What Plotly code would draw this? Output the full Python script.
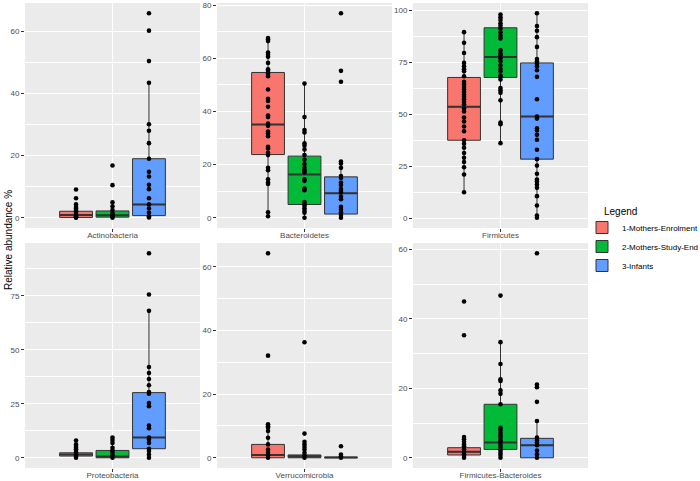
import plotly.graph_objects as go

groups = ["1-Mothers-Enrolment", "2-Mothers-Study-End", "3-Infants"]
colors = ["#F8766D", "#00BA38", "#619CFF"]
phyla = ["Actinobacteria", "Bacteroidetes", "Firmicutes",
         "Proteobacteria", "Verrucomicrobia", "Firmicutes-Bacteroides"]
y_dticks = [20, 20, 25, 25, 20, 20]

# Box statistics per phylum: one value per group (Enrolment, Study-End, Infants)
q1 = {
    "Actinobacteria": [0.1, 0.2, 0.7],
    "Bacteroidetes": [23.8, 5.0, 1.4],
    "Firmicutes": [37.6, 67.8, 28.5],
    "Proteobacteria": [0.8, 0.0, 4.2],
    "Verrucomicrobia": [0.0, 0.0, 0.0],
    "Firmicutes-Bacteroides": [0.8, 2.4, 0.0],
}
median = {
    "Actinobacteria": [0.9, 0.8, 4.3],
    "Bacteroidetes": [35.1, 16.3, 9.2],
    "Firmicutes": [53.7, 77.7, 49.0],
    "Proteobacteria": [1.5, 0.6, 9.4],
    "Verrucomicrobia": [0.9, 0.5, 0.1],
    "Firmicutes-Bacteroides": [1.7, 4.4, 3.6],
}
q3 = {
    "Actinobacteria": [2.1, 2.2, 19.0],
    "Bacteroidetes": [54.7, 23.2, 15.4],
    "Firmicutes": [67.8, 91.7, 74.8],
    "Proteobacteria": [2.3, 3.4, 30.2],
    "Verrucomicrobia": [4.2, 0.9, 0.2],
    "Firmicutes-Bacteroides": [2.9, 15.4, 5.6],
}
lower_whisker = {
    "Actinobacteria": [0.0, 0.0, 0.1],
    "Bacteroidetes": [0.6, 0.0, 0.0],
    "Firmicutes": [12.6, 36.2, 0.3],
    "Proteobacteria": [0.0, 0.0, 0.0],
    "Verrucomicrobia": [0.0, 0.0, 0.0],
    "Firmicutes-Bacteroides": [0.0, 0.0, 0.0],
}
upper_whisker = {
    "Actinobacteria": [4.3, 5.0, 43.4],
    "Bacteroidetes": [67.7, 50.5, 21.2],
    "Firmicutes": [89.6, 98.1, 98.7],
    "Proteobacteria": [3.1, 8.2, 68.1],
    "Verrucomicrobia": [10.5, 2.2, 0.5],
    "Firmicutes-Bacteroides": [6.0, 33.3, 10.6],
}

# Individual sample values (relative abundance %)
points = {
    "Actinobacteria": [
        [9.1, 6.3, 4.3, 3.5, 3.0, 2.5, 2.0, 1.5, 1.0, 0.5, 0.2, 0.0],
        [16.8, 10.5, 5.0, 3.7, 2.5, 1.5, 1.0, 0.5, 0.0],
        [65.8, 60.2, 50.4, 43.4, 30.1, 28.0, 24.0, 19.0, 14.8, 13.3, 10.6, 9.2,
         6.3, 4.3, 3.0, 1.6, 0.5, 0.1],
    ],
    "Bacteroidetes": [
        [67.7, 67.1, 66.5, 62.2, 61.4, 60.6, 58.3, 55.9, 55.3, 54.3, 53.3, 48.3,
         44.8, 44.0, 41.8, 38.5, 37.9, 35.5, 34.6, 32.5, 31.7, 30.7, 26.7, 26.1,
         24.5, 23.6, 18.8, 17.9, 14.5, 13.3, 12.7, 2.1, 0.6],
        [50.5, 37.9, 33.0, 32.1, 28.0, 27.1, 25.7, 23.6, 21.9, 20.2, 18.8, 17.9,
         17.1, 14.5, 13.9, 11.0, 10.4, 5.9, 5.1, 4.5, 3.6, 2.6, 1.9, 0.0],
        [77.0, 55.3, 51.2, 21.2, 20.4, 18.8, 15.7, 15.0, 13.3, 12.3, 10.8, 10.2,
         9.4, 7.9, 7.0, 4.1, 3.1, 2.1, 1.0, 0.0],
    ],
    "Firmicutes": [
        [89.6, 84.5, 79.6, 74.8, 73.2, 71.8, 70.8, 68.4, 65.7, 64.4, 63.2, 62.0,
         60.9, 59.6, 58.5, 57.3, 56.1, 54.9, 53.0, 51.4, 48.5, 46.6, 44.2, 41.9,
         37.6, 35.9, 34.0, 31.4, 29.2, 27.1, 24.6, 21.1, 12.6],
        [98.1, 96.8, 95.5, 93.9, 92.7, 91.4, 89.5, 87.9, 86.6, 80.9, 79.3, 78.5,
         77.0, 75.6, 73.7, 71.9, 70.8, 68.7, 68.1, 66.8, 62.7, 61.7, 60.4, 56.8,
         46.1, 45.3, 36.2],
        [98.7, 92.5, 90.3, 87.2, 82.5, 76.7, 75.6, 74.5, 73.2, 71.3, 68.1, 57.3,
         49.0, 48.0, 43.4, 42.3, 40.2, 37.8, 33.0, 28.5, 25.4, 21.5, 18.7, 17.7,
         16.3, 14.7, 10.7, 6.2, 1.4, 0.3],
    ],
    "Proteobacteria": [
        [8.0, 6.2, 5.4, 4.6, 3.9, 3.1, 2.3, 1.5, 0.8, 0.0],
        [9.4, 8.2, 6.9, 4.6, 3.5, 2.3, 1.2, 0.0],
        [94.8, 75.7, 68.1, 42.1, 39.3, 36.5, 33.6, 30.5, 29.7, 25.4, 23.9, 14.9,
         13.7, 9.4, 8.5, 6.9, 4.2, 3.1, 1.5, 0.0],
    ],
    "Verrucomicrobia": [
        [64.3, 32.1, 10.5, 9.9, 9.4, 8.4, 6.3, 4.2, 2.6, 1.6, 0.8, 0.0],
        [36.3, 7.6, 5.0, 4.2, 3.4, 2.6, 1.6, 0.8, 0.0],
        [3.6, 1.0, 0.5, 0.0],
    ],
    "Firmicutes-Bacteroides": [
        [45.0, 35.3, 6.0, 5.3, 4.6, 3.8, 3.3, 2.4, 1.7, 1.0, 0.5, 0.0],
        [46.7, 33.3, 27.0, 22.6, 22.1, 19.4, 18.4, 15.4, 8.6, 8.0, 7.2, 6.5, 5.8,
         5.0, 4.3, 3.6, 2.9, 2.1, 1.4, 0.8, 0.0],
        [58.9, 21.1, 20.3, 16.1, 10.6, 5.8, 5.0, 4.3, 3.6, 2.1, 1.0, 0.0],
    ],
}

# ---- layout geometry (pixels of the 700x481 canvas) ----
W, H = 700, 481
col_px = [(25, 200), (217, 392), (413, 588)]
row_px = [(3, 228), (243, 468)]
offsets = [-0.25, 0.0, 0.25]
box_w = 0.225
line_col = "#333333"
FONT = "Liberation Sans, Arial, Helvetica, sans-serif"


def fx(px):
    return px / W


def fy(py):
    return 1 - py / H


fig = go.Figure()
layout_axes = {}

for k, ph in enumerate(phyla):
    r, c = divmod(k, 3)
    idx = k + 1
    xa = "x" if idx == 1 else f"x{idx}"
    ya = "y" if idx == 1 else f"y{idx}"
    for g in range(3):
        pos = offsets[g]
        fig.add_trace(go.Box(
            x=[pos], q1=[q1[ph][g]], median=[median[ph][g]], q3=[q3[ph][g]],
            lowerfence=[lower_whisker[ph][g]], upperfence=[upper_whisker[ph][g]],
            width=box_w, fillcolor=colors[g],
            line=dict(color=line_col, width=1), whiskerwidth=0,
            boxpoints=False, name=groups[g], legendgroup=groups[g],
            showlegend=(k == 0), xaxis=xa, yaxis=ya, hoverinfo="skip",
        ))
        fig.add_trace(go.Scatter(
            x=[pos - box_w / 2, pos + box_w / 2],
            y=[median[ph][g], median[ph][g]],
            mode="lines", line=dict(color=line_col, width=2),
            showlegend=False, xaxis=xa, yaxis=ya, hoverinfo="skip",
        ))
    for g in range(3):
        vals = points[ph][g]
        fig.add_trace(go.Scatter(
            x=[offsets[g]] * len(vals), y=vals, mode="markers",
            marker=dict(color="black", size=4.6),
            showlegend=False, xaxis=xa, yaxis=ya, hoverinfo="skip",
        ))

    allv = [v for grp in points[ph] for v in grp] + upper_whisker[ph] + lower_whisker[ph]
    lo, hi = min(allv), max(allv)
    pad = 0.05 * (hi - lo)
    x0, x1 = col_px[c]
    yt, yb = row_px[r]
    dt = y_dticks[k]
    key = "" if idx == 1 else str(idx)
    layout_axes["xaxis" + key] = dict(
        domain=[fx(x0), fx(x1)], range=[-0.6, 0.6], anchor=ya,
        tickvals=[0], ticktext=[ph], showgrid=True, gridcolor="white",
        gridwidth=1, zeroline=False, ticks="outside", ticklen=3,
        tickcolor=line_col, tickwidth=0.6, automargin=False,
        ticklabelstandoff=-4,
        tickfont=dict(size=8, color="#4D4D4D", family=FONT), fixedrange=True,
    )
    layout_axes["yaxis" + key] = dict(
        domain=[fy(yb), fy(yt)], range=[lo - pad, hi + pad], anchor=xa,
        tick0=0, dtick=dt, showgrid=True, gridcolor="white", gridwidth=1,
        minor=dict(dtick=dt / 2, tick0=0, showgrid=True, gridcolor="white",
                   gridwidth=0.5, ticks=""),
        zeroline=False, ticks="outside", ticklen=3, tickcolor=line_col,
        tickwidth=0.6, automargin=False,
        tickfont=dict(size=8, color="#4D4D4D", family=FONT),
        fixedrange=True,
    )

fig.update_layout(
    width=W, height=H,
    margin=dict(l=0, r=0, t=0, b=0, autoexpand=False),
    paper_bgcolor="white", plot_bgcolor="#EBEBEB",
    boxmode="overlay",
    font=dict(family=FONT, color="black"),
    legend=dict(
        font=dict(size=8, color="black", family=FONT),
        x=fx(582), y=fy(213), xanchor="left", yanchor="top",
        bgcolor="rgba(0,0,0,0)", tracegroupgap=0, itemwidth=30,
    ),
    annotations=[
        dict(text="Relative abundance %", x=fx(8), y=fy(240), xref="paper",
             yref="paper", xanchor="center", yanchor="middle",
             textangle=-90, showarrow=False,
             font=dict(size=10, color="black", family=FONT)),
        dict(text="Legend", x=fx(602), y=fy(211), xref="paper",
             yref="paper", xanchor="left", yanchor="middle", showarrow=False,
             font=dict(size=10, color="black", family=FONT)),
    ],
    **layout_axes,
)

fig.write_html(
    "out.html",
    config={"displayModeBar": False},
    post_script="document.body.style.margin='0';document.body.style.overflow='hidden';",
)
